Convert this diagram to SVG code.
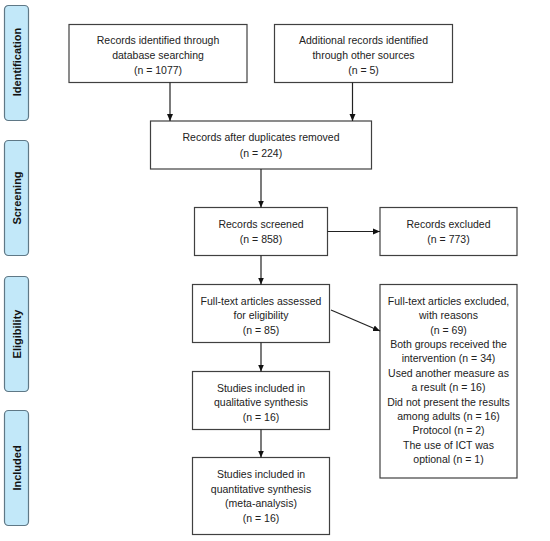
<svg xmlns="http://www.w3.org/2000/svg" width="550" height="541" viewBox="0 0 550 541">
<defs>
<style>
.box{fill:#fff;stroke:#404040;stroke-width:1.2}
.lab{fill:#c2e8f9;stroke:#5f7886;stroke-width:1.2}
.t{font-family:"Liberation Sans",Arial,sans-serif;font-size:10.5px;fill:#222;text-anchor:middle;dominant-baseline:central}
.lt{font-family:"Liberation Sans",Arial,sans-serif;font-size:11px;font-weight:bold;fill:#111;text-anchor:middle;dominant-baseline:central}
.c{stroke:#222;stroke-width:1.2;fill:none;marker-end:url(#ah)}
</style>
<marker id="ah" markerWidth="8" markerHeight="8" refX="7" refY="4" orient="auto" markerUnits="userSpaceOnUse">
<path d="M0,1 L7,4 L0,7 z" fill="#111"/>
</marker>
</defs>
<rect width="550" height="541" fill="#fff"/>
<g id="label-identification"><rect class="lab" x="4.5" y="5.5" width="24" height="115" rx="4"/><text class="lt" transform="translate(17,62) rotate(-90)">Identification</text></g>
<g id="label-screening"><rect class="lab" x="4.5" y="140.5" width="24" height="115" rx="4"/><text class="lt" transform="translate(17,198) rotate(-90)">Screening</text></g>
<g id="label-eligibility"><rect class="lab" x="4.5" y="276.5" width="24" height="115" rx="4"/><text class="lt" transform="translate(17,334) rotate(-90)">Eligibility</text></g>
<g id="label-included"><rect class="lab" x="4.5" y="410.5" width="24" height="115" rx="4"/><text class="lt" transform="translate(17,468) rotate(-90)">Included</text></g>

<g id="n-database"><rect class="box" x="69" y="24.5" width="178" height="58"/>
<text class="t" x="158" y="40">Records identified through</text><text class="t" x="158" y="55">database searching</text><text class="t" x="158" y="70">(n = 1077)</text></g>
<g id="n-other"><rect class="box" x="274.5" y="24.5" width="178" height="58"/>
<text class="t" x="363.5" y="40">Additional records identified</text><text class="t" x="363.5" y="55">through other sources</text><text class="t" x="363.5" y="70">(n = 5)</text></g>
<g id="n-duplicates"><rect class="box" x="150.5" y="121" width="221" height="48"/>
<text class="t" x="261" y="137">Records after duplicates removed</text><text class="t" x="261" y="153">(n = 224)</text></g>
<g id="n-screened"><rect class="box" x="194.5" y="207.5" width="133" height="48"/>
<text class="t" x="261" y="223.5">Records screened</text><text class="t" x="261" y="239">(n = 858)</text></g>
<g id="n-excluded"><rect class="box" x="380" y="207.5" width="137" height="48"/>
<text class="t" x="448.5" y="223.5">Records excluded</text><text class="t" x="448.5" y="239">(n = 773)</text></g>
<g id="n-fulltext"><rect class="box" x="192.5" y="284.5" width="137" height="58"/>
<text class="t" x="261" y="300.5">Full-text articles assessed</text><text class="t" x="261" y="315">for eligibility</text><text class="t" x="261" y="330">(n = 85)</text></g>
<g id="n-fulltext-excluded"><rect class="box" x="380" y="284.5" width="137" height="193.5"/>
<text class="t" x="448.5" y="301">Full-text articles excluded,</text>
<text class="t" x="448.5" y="315.4">with reasons</text>
<text class="t" x="448.5" y="329.7">(n = 69)</text>
<text class="t" x="448.5" y="344.1">Both groups received the</text>
<text class="t" x="448.5" y="358.4">intervention (n = 34)</text>
<text class="t" x="448.5" y="372.8">Used another measure as</text>
<text class="t" x="448.5" y="387.2">a result (n = 16)</text>
<text class="t" x="448.5" y="401.5">Did not present the results</text>
<text class="t" x="448.5" y="415.9">among adults (n = 16)</text>
<text class="t" x="448.5" y="430.2">Protocol (n = 2)</text>
<text class="t" x="448.5" y="444.6">The use of ICT was</text>
<text class="t" x="448.5" y="459">optional (n = 1)</text></g>
<g id="n-qualitative"><rect class="box" x="192.5" y="371.5" width="137" height="58"/>
<text class="t" x="261" y="387.5">Studies included in</text><text class="t" x="261" y="402">qualitative synthesis</text><text class="t" x="261" y="417">(n = 16)</text></g>
<g id="n-quantitative"><rect class="box" x="192.5" y="457.5" width="137" height="77"/>
<text class="t" x="261" y="474">Studies included in</text><text class="t" x="261" y="488.5">quantitative synthesis</text><text class="t" x="261" y="503">(meta-analysis)</text><text class="t" x="261" y="517.5">(n = 16)</text></g>

<g id="connectors">
<line class="c" x1="170" y1="82.5" x2="170" y2="121"/>
<line class="c" x1="352.5" y1="82.5" x2="352.5" y2="121"/>
<line class="c" x1="261" y1="169" x2="261" y2="207.5"/>
<line class="c" x1="327.5" y1="231.5" x2="380" y2="231.5"/>
<line class="c" x1="261" y1="255.5" x2="261" y2="284.5"/>
<line class="c" x1="331" y1="310" x2="380" y2="331"/>
<line class="c" x1="261" y1="342.5" x2="261" y2="371.5"/>
<line class="c" x1="261" y1="429.5" x2="261" y2="457.5"/>
</g>
</svg>
